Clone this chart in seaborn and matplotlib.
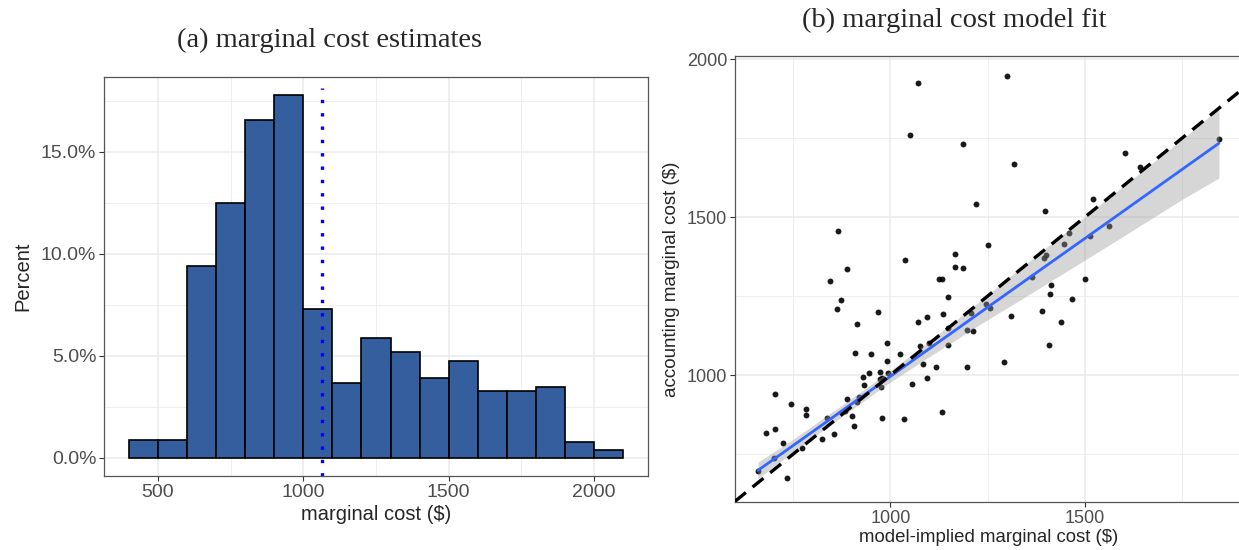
import numpy as np
import pandas as pd
import matplotlib
matplotlib.use("Agg")
import matplotlib.pyplot as plt
from matplotlib.ticker import FuncFormatter, MultipleLocator
import seaborn as sns

# ---- panel (a): distribution of marginal cost estimates (share of observations per $100 bin)
bin_edges = [400, 500, 600, 700, 800, 900, 1000, 1100, 1200, 1300, 1400,
             1500, 1600, 1700, 1800, 1900, 2000, 2100]
bin_percent = [0.86, 0.86, 9.42, 12.50, 16.55, 17.77, 7.29, 3.68, 5.87, 5.18,
               3.91, 4.77, 3.29, 3.29, 3.48, 0.80, 0.39]
mean_cost = 1066

# ---- panel (b): accounting vs model-implied marginal cost
model_mc = [1070, 1049, 1186, 1219, 1299, 1317, 1397, 1521, 1603, 1641,
            1845, 866, 887, 844, 873, 863, 913, 968, 990, 909,
            949, 1025, 1037, 1251, 1167, 1165, 1186, 1124, 1133, 1149,
            1095, 1071, 1135, 1207, 1247, 1255, 1197, 1213, 1149, 1147,
            1099, 1075, 1459, 1446, 1399, 1396, 1513, 1561, 1363, 1413,
            1500, 1410, 1468, 1391, 1311, 1439, 1407, 1291, 992, 974,
            945, 929, 933, 994, 972, 977, 975, 1083, 1118, 1093,
            1056, 1196, 1133, 1035, 979, 702, 744, 784, 783, 887,
            920, 913, 900, 907, 884, 838, 856, 823, 773, 679,
            703, 723, 700, 734, 659]
acct_mc = [1926, 1760, 1732, 1542, 1946, 1668, 1520, 1558, 1703, 1658,
           1748, 1456, 1336, 1299, 1237, 1210, 1162, 1199, 1103, 1070,
           1068, 1067, 1363, 1411, 1384, 1343, 1339, 1304, 1304, 1246,
           1184, 1168, 1194, 1196, 1225, 1212, 1142, 1138, 1149, 1096,
           1101, 1093, 1449, 1416, 1379, 1370, 1439, 1473, 1312, 1286,
           1304, 1257, 1241, 1204, 1187, 1168, 1094, 1042, 1044, 1011,
           1007, 995, 969, 1007, 986, 991, 963, 1036, 1027, 992,
           973, 1027, 883, 862, 864, 939, 907, 892, 874, 924,
           932, 915, 870, 840, 885, 864, 813, 799, 768, 818,
           829, 784, 738, 673, 697]

# linear fit of accounting on model-implied cost, with its 95% confidence band
fit_x = [659, 751, 871, 1000, 1120, 1231, 1334, 1550, 1750, 1845]
fit_y = [698, 778, 883, 996, 1101, 1198, 1288, 1476, 1651, 1734]
fit_lo = [672, 758, 865, 978, 1074, 1161, 1238, 1402, 1556, 1624]
fit_hi = [724, 798, 901, 1014, 1127, 1235, 1338, 1550, 1746, 1844]

bar_fill = "#355E9F"
grid_col = "#EBEBEB"
border_col = "#555555"

sns.set_theme(style="white")
plt.rcParams["font.family"] = ["Liberation Sans", "DejaVu Sans"]

fig = plt.figure(figsize=(12.39, 5.5), dpi=100)
ax_a = fig.add_axes([0.0839, 0.1345, 0.523 - 0.0839, 0.86 - 0.1345])
ax_b = fig.add_axes([0.5932, 0.0873, 1.002 - 0.5932, 0.898 - 0.0873])


def style_panel(ax, tick_size):
    ax.set_axisbelow(True)
    ax.grid(which="major", color=grid_col, linewidth=1.1)
    ax.grid(which="minor", color=grid_col, linewidth=0.6)
    for sp in ax.spines.values():
        sp.set_color(border_col)
        sp.set_linewidth(0.9)
        sp.set_visible(True)
    ax.tick_params(which="major", direction="out", length=3.5, width=0.8,
                   color="#333333", labelsize=tick_size, labelcolor="#4D4D4D",
                   bottom=True, left=True, pad=2)
    ax.tick_params(which="minor", length=0)


# ---- (a) histogram
centers = [(lo + hi) / 2 for lo, hi in zip(bin_edges[:-1], bin_edges[1:])]
sns.histplot(x=centers, weights=bin_percent, bins=bin_edges, stat="count",
             color=bar_fill, alpha=1.0, edgecolor="black", linewidth=1.2,
             ax=ax_a)
ax_a.axvline(mean_cost, ymax=0.972, color="#0000FF", linewidth=2.4,
             linestyle=(0, (1, 3)))
span = bin_edges[-1] - bin_edges[0]
ax_a.set_xlim(bin_edges[0] - 0.05 * span, bin_edges[-1] + 0.05 * span)
top = max(bin_percent)
ax_a.set_ylim(-0.05 * top, 1.05 * top)
ax_a.xaxis.set_major_locator(MultipleLocator(500))
ax_a.xaxis.set_minor_locator(MultipleLocator(250))
ax_a.yaxis.set_major_locator(MultipleLocator(5))
ax_a.yaxis.set_minor_locator(MultipleLocator(2.5))
ax_a.yaxis.set_major_formatter(FuncFormatter(lambda v, p: f"{v:.1f}%"))
style_panel(ax_a, 14)
ax_a.set_xlabel("marginal cost ($)", fontsize=14.5, labelpad=3)
ax_a.set_ylabel("Percent", fontsize=14.5, labelpad=6)

# ---- (b) scatter, fitted line with band, 45-degree reference line
df = pd.DataFrame({"model": model_mc, "acct": acct_mc})
sns.scatterplot(data=df, x="model", y="acct", ax=ax_b, s=18, color="black",
                alpha=0.9, linewidth=0, zorder=2)
ax_b.fill_between(fit_x, fit_lo, fit_hi, color="#999999", alpha=0.4,
                  linewidth=0, zorder=3)
sns.lineplot(x=fit_x, y=fit_y, ax=ax_b, color="#3366FF", linewidth=2.0,
             zorder=4)
ax_b.axline((1000, 1000), slope=1, color="black", linewidth=2.4,
            linestyle=(0, (4.2, 2.6)), zorder=5)
ax_b.set_xlim(600, 1903)
ax_b.set_ylim(598, 2010)
ax_b.xaxis.set_major_locator(MultipleLocator(500))
ax_b.xaxis.set_minor_locator(MultipleLocator(250))
ax_b.yaxis.set_major_locator(MultipleLocator(500))
ax_b.yaxis.set_minor_locator(MultipleLocator(250))
style_panel(ax_b, 13)
ax_b.spines["right"].set_visible(False)
ax_b.set_xlabel("model-implied marginal cost ($)", fontsize=13.4, labelpad=2)
ax_b.set_ylabel("accounting marginal cost ($)", fontsize=13.5, labelpad=5)

# ---- subfigure captions
fig.text(0.266, 0.926, "(a) marginal cost estimates", ha="center", va="center",
         fontsize=20.5, family=["Liberation Serif", "DejaVu Serif"])
fig.text(0.770, 0.962, "(b) marginal cost model fit", ha="center", va="center",
         fontsize=20.5, family=["Liberation Serif", "DejaVu Serif"])

fig.savefig("out.png", dpi=100)
